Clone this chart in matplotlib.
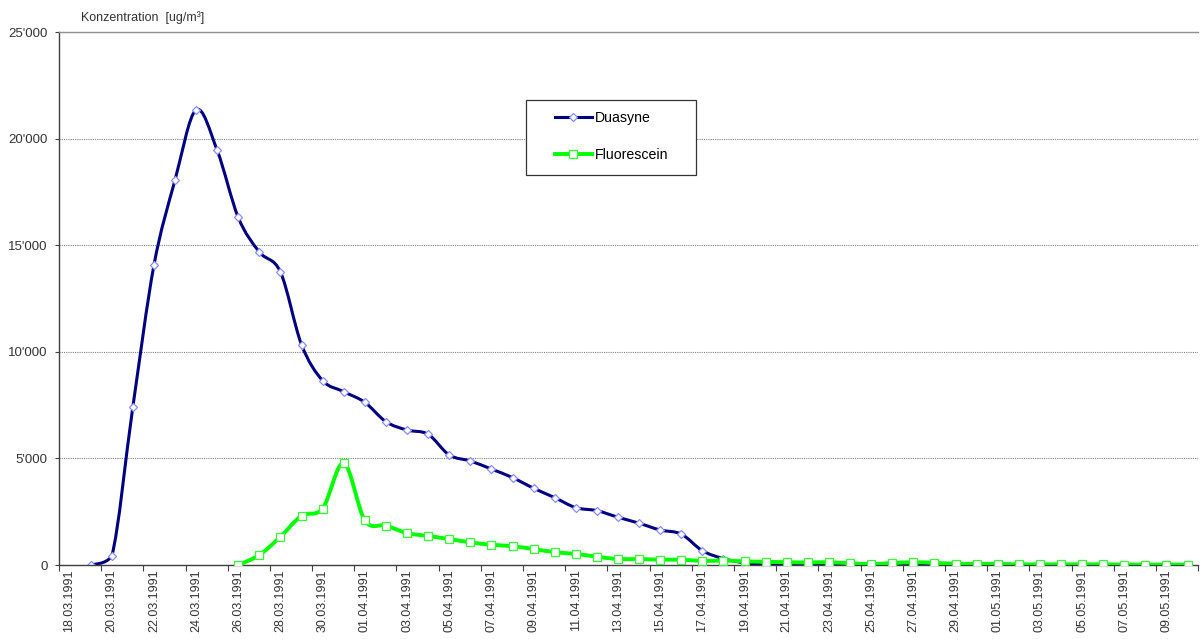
import datetime as dt

import matplotlib

matplotlib.use("Agg")
import matplotlib.pyplot as plt
from matplotlib.patches import PathPatch, Rectangle
from matplotlib.path import Path
from matplotlib.ticker import FixedLocator, FuncFormatter

plt.rcParams["font.family"] = ["Liberation Sans", "DejaVu Sans"]

# daily categories 18.03.1991 .. 10.05.1991
START = dt.date(1991, 3, 18)
N_DAYS = 54
dates = [START + dt.timedelta(days=i) for i in range(N_DAYS)]
date_labels = [d.strftime("%d.%m.%Y") for d in dates]

# Duasyne, from 19.03.1991
duasyne_start = 1
duasyne = [
    0, 400, 7400, 14050, 18050, 21350, 19450, 16300, 14680, 13740,
    10330, 8650, 8130, 7630, 6720, 6330, 6130, 5160, 4880, 4500,
    4100, 3600, 3160, 2690, 2550, 2240, 1960, 1640, 1450, 670,
    300, 100, 0, 0, 0, 0, 0, 0, 0, 0,
    0, 0, 0, 0, 0, 0, 0, 0, 0, 0,
    0, 0, 0,
]

# Fluorescein, from 26.03.1991
fluo_start = 8
fluorescein = [
    0, 470, 1330, 2310, 2650, 4780, 2090, 1850, 1500, 1360,
    1220, 1060, 950, 880, 750, 600, 520, 390, 280, 280,
    250, 250, 190, 210, 170, 150, 130, 120, 130, 80,
    40, 90, 130, 100, 60, 50, 50, 30, 30, 30,
    30, 30, 20, 20, 20, 20,
]

y_ticks = [0, 5000, 10000, 15000, 20000, 25000]


def smooth_path(xs, ys):
    """Smoothed line: cubic Bezier segments with Catmull-Rom tangents,
    control points kept at or above zero so the curve never dips under the axis."""
    n = len(xs)
    verts = [(xs[0], ys[0])]
    codes = [Path.MOVETO]
    for i in range(n - 1):
        x0, y0 = (xs[i - 1], ys[i - 1]) if i > 0 else (xs[i], ys[i])
        x1, y1 = xs[i], ys[i]
        x2, y2 = xs[i + 1], ys[i + 1]
        x3, y3 = (xs[i + 2], ys[i + 2]) if i + 2 < n else (x2, y2)
        c1 = (x1 + (x2 - x0) / 6, max(0, y1 + (y2 - y0) / 6))
        c2 = (x2 - (x3 - x1) / 6, max(0, y2 - (y3 - y1) / 6))
        verts += [c1, c2, (x2, y2)]
        codes += [Path.CURVE4] * 3
    return Path(verts, codes)


fig = plt.figure(figsize=(12.01, 6.39), dpi=100)
ax = fig.add_axes([0.0491, 0.1158, 0.9485, 0.8341])

series = [
    ("Duasyne", duasyne_start, duasyne, "#000080", 2.2, "D", 4.0, "#8c8cff", 2),
    ("Fluorescein", fluo_start, fluorescein, "#00ff00", 2.8, "s", 5.2, "#33ff33", 3),
]
for name, start, vals, color, lw, marker, ms, mec, z in series:
    xs = list(range(start, start + len(vals)))
    ax.add_patch(PathPatch(smooth_path(xs, vals), facecolor="none", edgecolor=color,
                           lw=lw, capstyle="round", joinstyle="round", zorder=z))
    ax.plot(xs, vals, ls="none", marker=marker, ms=ms, mfc="white", mec=mec,
            mew=0.9, zorder=z + 0.5)
    # legend proxy
    ax.plot([], [], color=color, lw=lw, marker=marker, ms=ms, mfc="white", mec=mec,
            mew=0.9, label=name)

ax.set_xlim(-0.5, N_DAYS - 0.5)
ax.set_ylim(0, 25000)

# tick marks at category boundaries every 2 days, labels at category centres
ax.xaxis.set_major_locator(FixedLocator([i - 0.5 for i in range(0, N_DAYS + 1, 2)]))
ax.xaxis.set_major_formatter(FuncFormatter(lambda v, p: ""))
ax.xaxis.set_minor_locator(FixedLocator(list(range(0, N_DAYS, 2))))
ax.xaxis.set_minor_formatter(FuncFormatter(lambda v, p: date_labels[int(round(v))]))
ax.tick_params(axis="x", which="major", direction="out", length=4, width=0.8, color="#404040")
ax.tick_params(axis="x", which="minor", length=0, pad=3, labelsize=9,
               labelcolor="#333333", labelrotation=90)

ax.set_yticks(y_ticks)
ax.yaxis.set_major_formatter(FuncFormatter(lambda v, p: f"{v:,.0f}".replace(",", "'")))
ax.tick_params(axis="y", direction="out", length=3, width=0.8, color="#404040",
               labelsize=9.5, labelcolor="#333333", pad=5)

ax.grid(axis="y", color="#808080", ls=(0, (1, 1)), lw=0.8)
ax.set_axisbelow(True)
for side in ("left", "bottom"):
    ax.spines[side].set_color("#404040")
    ax.spines[side].set_linewidth(1.0)
ax.spines["top"].set_color("#909090")
ax.spines["top"].set_linewidth(1.0)
ax.spines["right"].set_visible(False)

fig.text(0.0675, 0.972, "Konzentration  [ug/m³]", fontsize=9, color="#333333",
         va="center", ha="left")

# legend box drawn separately, entries placed inside it
ax.add_patch(Rectangle((0.4099, 0.7317), 0.1491, 0.1407, transform=ax.transAxes,
                       facecolor="white", edgecolor="#333333", lw=0.9, zorder=5))
leg = ax.legend(loc="upper left", bbox_to_anchor=(0.4353, 0.851), fontsize=10.2,
                frameon=False, borderpad=0, labelspacing=1.6, handlelength=2.6,
                handletextpad=0.2, borderaxespad=0)
leg.set_zorder(6)

fig.savefig("out.png", dpi=100)
